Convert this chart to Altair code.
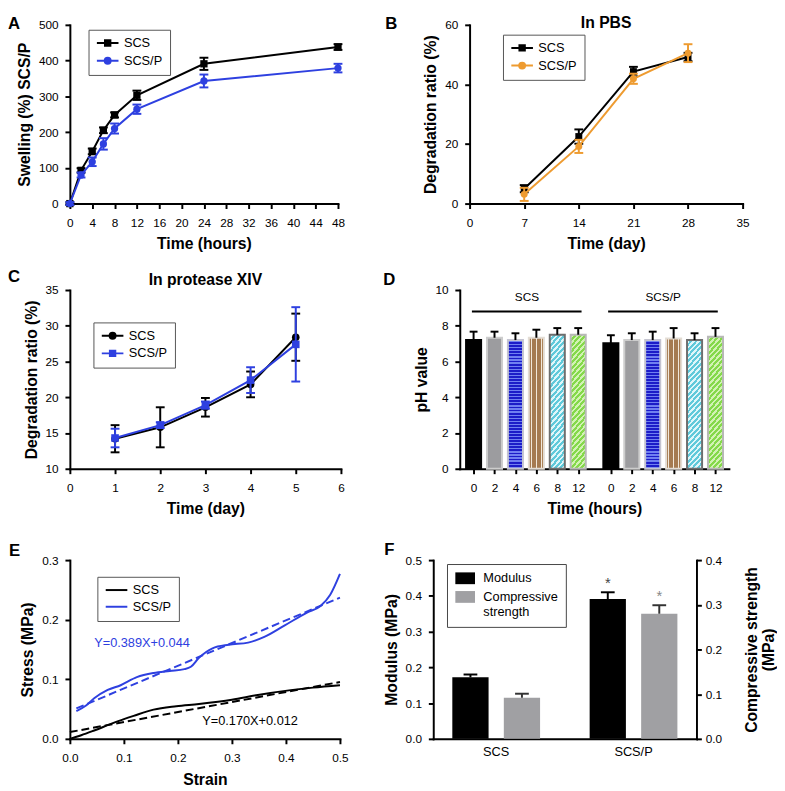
import json
import altair as alt
import pandas as pd

FONT = "Liberation Sans"
BLUE = "#2E40E0"
ORANGE = "#EE9B30"
BLACK = "#000000"

# ---------------- Panel A : swelling ----------------
a_time = [0, 2, 4, 6, 8, 12, 24, 48]
a_scs = [0, 93, 146, 205, 248, 303, 391, 438]
a_scs_err = [4, 6, 8, 8, 7, 13, 17, 8]
a_scsp = [0, 80, 117, 167, 210, 264, 343, 379]
a_scsp_err = [4, 7, 12, 16, 14, 13, 18, 12]
a_xticks = [0, 4, 8, 12, 16, 20, 24, 28, 32, 36, 40, 44, 48]
a_yticks = [0, 100, 200, 300, 400, 500]

# ---------------- Panel B : degradation in PBS ----------------
b_day = [7, 14, 21, 28]
b_scs = [5.0, 22.5, 44.3, 49.2]
b_scs_err = [1.2, 2.4, 1.6, 1.4]
b_scsp = [3.1, 19.2, 41.9, 50.5]
b_scsp_err = [2.2, 2.2, 1.7, 3.0]
b_xticks = [0, 7, 14, 21, 28, 35]
b_yticks = [0, 20, 40, 60]

# ---------------- Panel C : degradation in protease XIV ----------------
c_day = [1, 2, 3, 4, 5]
c_scs = [14.2, 15.8, 18.6, 21.8, 28.4]
c_scs_err = [1.9, 2.8, 1.3, 1.8, 3.3]
c_scsp = [14.3, 16.1, 18.9, 22.4, 27.4]
c_scsp_err = [1.3, 0.4, 0.5, 1.8, 5.2]
c_xticks = [0, 1, 2, 3, 4, 5, 6]
c_yticks = [10, 15, 20, 25, 30, 35]

# ---------------- Panel D : pH ----------------
d_groups = ["SCS", "SCS/P"]
d_hours = ["0", "2", "4", "6", "8", "12"]
d_scs = [7.2, 7.33, 7.2, 7.33, 7.5, 7.5]
d_scs_err = [0.47, 0.34, 0.38, 0.45, 0.37, 0.37]
d_scsp = [7.02, 7.2, 7.2, 7.29, 7.2, 7.38]
d_scsp_err = [0.45, 0.38, 0.47, 0.58, 0.38, 0.49]
d_group_start = [0.0, 6.56]
d_yticks = [0, 2, 4, 6, 8, 10]

# ---------------- Panel E : stress-strain ----------------
e_scs_strain = [0, 0.021, 0.045, 0.076, 0.1, 0.118, 0.155, 0.197, 0.239, 0.3, 0.348, 0.409, 0.45, 0.5]
e_scs_stress = [0, 0.006, 0.014, 0.025, 0.033, 0.0385, 0.049, 0.0547, 0.0585, 0.0656, 0.0737, 0.0818, 0.086, 0.09]
e_scsp_strain = [0.012, 0.03, 0.045, 0.07, 0.094, 0.124, 0.155, 0.185, 0.212, 0.224, 0.239, 0.264,
                 0.294, 0.33, 0.36, 0.397, 0.439, 0.464, 0.482, 0.5]
e_scsp_stress = [0.0466, 0.056, 0.068, 0.082, 0.09, 0.1035, 0.1105, 0.114, 0.117, 0.121, 0.136, 0.152,
                 0.158, 0.1615, 0.171, 0.19, 0.212, 0.223, 0.242, 0.277]
e_fit_scs_x = [0.0, 0.5]
e_fit_scs_y = [0.0114, 0.0954]
e_fit_scsp_x = [0.012, 0.5]
e_fit_scsp_y = [0.051, 0.237]
e_eq_text = ["Y=0.389X+0.044", "Y=0.170X+0.012"]
e_eq_x = [0.045, 0.245]
e_eq_y = [0.160, 0.030]
e_xticks = [0.0, 0.1, 0.2, 0.3, 0.4, 0.5]
e_yticks = [0.0, 0.1, 0.2, 0.3]

# ---------------- Panel F : mechanics ----------------
f_groups = ["SCS", "SCS/P"]
f_measures = ["Modulus", "Compressive strength"]
f_modulus = [0.172, 0.391]
f_modulus_err = [0.008, 0.019]
f_strength = [0.092, 0.280]
f_strength_err = [0.009, 0.019]
f_star = ["", "*"]
f_yticks_left = [0.0, 0.1, 0.2, 0.3, 0.4, 0.5]
f_yticks_right = [0.0, 0.1, 0.2, 0.3, 0.4]

SERIES = ["SCS", "SCS/P"]
CAP = "M-1,0H1"
LETTER_SIZE = 17


def marker_path(kind):
    if kind == "square":
        return "M-2,0H2M-0.5,-0.5H0.5V0.5H-0.5Z"
    return "M-2,0H2M0.55,0A0.55,0.55,0,1,1,-0.55,0A0.55,0.55,0,1,1,0.55,0Z"


def text_layer(txt, x, y, size=LETTER_SIZE, weight="bold", align="left", baseline="top"):
    return alt.Chart(pd.DataFrame({"t": [txt]})).mark_text(
        font=FONT, fontSize=size, fontWeight=weight, align=align, baseline=baseline, color="black"
    ).encode(text="t:N", x=alt.value(x), y=alt.value(y))


def series_panel(xs, means, errs, colors, shapes, xdom, xticks, ydom, yticks, xtitle, ytitle,
                 w, h, leg_xy, letter, let_xy, title=None, msize=60, legfont=13):
    rows = []
    for name, m, e in zip(SERIES, means, errs):
        for xv, mv, ev in zip(xs, m, e):
            rows.append({"series": name, "x": xv, "m": mv, "lo": mv - ev, "hi": mv + ev})
    df = pd.DataFrame(rows)
    xsc = alt.Scale(domain=xdom, nice=False, zero=False)
    ysc = alt.Scale(domain=ydom, nice=False, zero=False)
    xax = alt.Axis(values=xticks, title=xtitle)
    yax = alt.Axis(values=yticks, title=ytitle)
    X = alt.X("x:Q", scale=xsc, axis=xax)

    def Y(f):
        return alt.Y(f"{f}:Q", scale=ysc, axis=yax)

    layers = []
    for name, color, shape in zip(SERIES, colors, shapes):
        base = alt.Chart(df).transform_filter(alt.datum.series == name)
        layers.append(base.mark_line(color=color, strokeWidth=2).encode(x=X, y=Y("m")))
        layers.append(base.mark_rule(color=color, strokeWidth=2).encode(x=X, y=Y("lo"), y2="hi:Q"))
        for f in ("lo", "hi"):
            layers.append(base.mark_point(shape=CAP, size=81, filled=False, stroke=color,
                                          strokeWidth=2, opacity=1).encode(x=X, y=Y(f)))
        layers.append(base.mark_point(shape=shape, size=msize, filled=True, color=color,
                                      opacity=1).encode(x=X, y=Y("m")))
    L = alt.Legend(title=None, orient="none", legendX=leg_xy[0], legendY=leg_xy[1],
                   strokeColor="#555555", fillColor="white", padding=7, symbolSize=121,
                   symbolOffset=6, symbolStrokeWidth=2, labelFont=FONT, labelFontSize=legfont,
                   labelColor="black", rowPadding=3, labelOffset=10, symbolOpacity=1)
    leg = alt.Chart(df).transform_filter("false").mark_point(filled=True, opacity=1, strokeWidth=2).encode(
        fill=alt.Fill("series:N", scale=alt.Scale(domain=SERIES, range=colors), legend=L),
        stroke=alt.Stroke("series:N", scale=alt.Scale(domain=SERIES, range=colors), legend=L),
        shape=alt.Shape("series:N", scale=alt.Scale(domain=SERIES, range=[marker_path(s) for s in shapes]),
                        legend=L),
    )
    layers.append(leg)
    layers.append(text_layer(letter, let_xy[0], let_xy[1]))
    if title:
        layers.append(text_layer(title[0], w / 2, title[1], size=16, align="center", baseline=title[2]))
    return alt.layer(*layers).properties(width=w, height=h)


H = 182

panelA = series_panel(a_time, [a_scs, a_scsp], [a_scs_err, a_scsp_err], [BLACK, BLUE], ["square", "circle"],
                      [0, 48], a_xticks, [0, 500], a_yticks, "Time (hours)", "Swelling (%) SCS/P",
                      273, H, (19, 5), "A", (-63, -9), msize=55)
panelB = series_panel(b_day, [b_scs, b_scsp], [b_scs_err, b_scsp_err], [BLACK, ORANGE], ["square", "circle"],
                      [0, 35], b_xticks, [0, 60], b_yticks, "Time (day)", "Degradation ratio (%)",
                      278, H, (34, 10), "B", (-86, -9), title=("In PBS", -10, "top"), msize=50)
panelC = series_panel(c_day, [c_scs, c_scsp], [c_scs_err, c_scsp_err], [BLACK, BLUE], ["circle", "square"],
                      [0, 6], c_xticks, [10, 35], c_yticks, "Time (day)", "Degradation ratio (%)",
                      276, H, (24, 33), "C", (-63, -21), title=("In protease XIV", -5, "alphabetic"),
                      msize=60, legfont=13)


# ---------------- Panel D ----------------
def stripe_grad(base, line, n, frac, x1, y1, x2, y2):
    stops = []
    for k in range(n):
        a = k / n
        c = (k + 1) / n
        m = (k + 0.5) / n
        lo = m - frac / (2 * n)
        hi = m + frac / (2 * n)
        stops += [alt.GradientStop(offset=a, color=base), alt.GradientStop(offset=lo, color=base),
                  alt.GradientStop(offset=lo, color=line), alt.GradientStop(offset=hi, color=line),
                  alt.GradientStop(offset=hi, color=base), alt.GradientStop(offset=c, color=base)]
    return alt.LinearGradient(gradient="linear", stops=stops, x1=x1, y1=y1, x2=x2, y2=y2)


d_fills = [
    "#000000",
    "#9c9c9f",
    stripe_grad("#1c1cc8", "#7080f0", 42, 0.4, 0, 0, 0, 1),
    stripe_grad("#a57a50", "#f2e8da", 3, 0.25, 0, 0, 1, 0),
    stripe_grad("#5fc9da", "#dff6f9", 26, 0.45, 0, 0, 0.142, 1.11),
    stripe_grad("#84d94a", "#d2f2b4", 26, 0.45, 0, 0, 0.142, 1.11),
]
d_strokes = ["#000000", "#cdcdcd", "#c4c4d0", "#e3ddd5", "#6e6e6e", "#b8b8b8"]

d_rows = []
for gi, (g, vals, errs) in enumerate(zip(d_groups, [d_scs, d_scsp], [d_scs_err, d_scsp_err])):
    for k, (hr, v, e) in enumerate(zip(d_hours, vals, errs)):
        p = d_group_start[gi] + k
        d_rows.append({"group": g, "k": k, "hour": hr, "x": p, "x0": p - 0.36, "x1": p + 0.36,
                       "v": v, "hi": v + e})
ddf = pd.DataFrame(d_rows)
d_pos = list(ddf["x"])
hrs_js = json.dumps(d_hours).replace('"', "'")
d_label_expr = (f"datum.value < 6 ? {hrs_js}[round(datum.value)] : "
                f"{hrs_js}[round(datum.value - {d_group_start[1]})]")
DX_sc = alt.Scale(domain=[-0.66, 12.2], nice=False, zero=False)
DX_ax = alt.Axis(values=d_pos, labelExpr=d_label_expr, title="Time (hours)")
DY_sc = alt.Scale(domain=[0, 10], nice=False)
DY_ax = alt.Axis(values=d_yticks, title="pH value")


def DX(f):
    return alt.X(f"{f}:Q", scale=DX_sc, axis=DX_ax)


def DY(f):
    return alt.Y(f"{f}:Q", scale=DY_sc, axis=DY_ax)


d_layers = []
for k in range(6):
    d_layers.append(alt.Chart(ddf).transform_filter(alt.datum.k == k).mark_bar(
        fill=d_fills[k], stroke=d_strokes[k], strokeWidth=2, opacity=1
    ).encode(x=DX("x0"), x2="x1:Q", y=DY("v"), y2=alt.datum(0)))
d_layers.append(alt.Chart(ddf).mark_rule(color="black", strokeWidth=2).encode(x=DX("x"), y=DY("v"), y2="hi:Q"))
d_layers.append(alt.Chart(ddf).mark_point(shape=CAP, size=64, filled=False, stroke="black", strokeWidth=2,
                                          opacity=1).encode(x=DX("x"), y=DY("hi")))
d_ann = pd.DataFrame({
    "label": d_groups,
    "xs": [d_group_start[0] - 0.08, d_group_start[1] - 0.13],
    "xe": [d_group_start[0] + 5.16, d_group_start[1] + 5.11],
    "xc": [d_group_start[0] + 2.55, d_group_start[1] + 2.5],
    "y": [8.8, 8.8],
    "ty": [9.38, 9.38],
})
d_layers.append(alt.Chart(d_ann).mark_rule(color="black", strokeWidth=2).encode(x=DX("xs"), x2="xe:Q", y=DY("y")))
d_layers.append(alt.Chart(d_ann).mark_text(font=FONT, fontSize=12, color="black", baseline="alphabetic").encode(
    x=DX("xc"), y=DY("ty"), text="label:N"))
d_layers.append(text_layer("D", -78, -18))
panelD = alt.layer(*d_layers).properties(width=274, height=H)

# ---------------- Panel E ----------------
e_rows = ([{"series": "SCS", "strain": a, "stress": b} for a, b in zip(e_scs_strain, e_scs_stress)] +
          [{"series": "SCS/P", "strain": a, "stress": b} for a, b in zip(e_scsp_strain, e_scsp_stress)])
edf = pd.DataFrame(e_rows)
e_fit = pd.DataFrame(
    [{"series": "SCS", "strain": a, "stress": b} for a, b in zip(e_fit_scs_x, e_fit_scs_y)] +
    [{"series": "SCS/P", "strain": a, "stress": b} for a, b in zip(e_fit_scsp_x, e_fit_scsp_y)])
e_ann = pd.DataFrame({"text": e_eq_text, "x": e_eq_x, "y": e_eq_y, "c": [BLUE, BLACK]})
EX = alt.X("strain:Q", scale=alt.Scale(domain=[0, 0.5], nice=False),
           axis=alt.Axis(values=e_xticks, format=".1f", title="Strain"))
EY = alt.Y("stress:Q", scale=alt.Scale(domain=[0, 0.3], nice=False),
           axis=alt.Axis(values=e_yticks, format=".1f", title="Stress (MPa)"))
LE = alt.Legend(title=None, orient="none", legendX=28, legendY=17, strokeColor="#555555", fillColor="white",
                padding=7, symbolType="M-2,0H2", symbolSize=121, symbolOffset=6, symbolStrokeWidth=2,
                labelFont=FONT, labelFontSize=13, labelColor="black", rowPadding=3, labelOffset=10)
e_layers = []
for name, col in zip(SERIES, [BLACK, BLUE]):
    e_layers.append(alt.Chart(e_fit).transform_filter(alt.datum.series == name).mark_line(
        color=col, strokeWidth=2, strokeDash=[8, 4]).encode(x=EX, y=EY))
e_layers.append(alt.Chart(edf).mark_line(strokeWidth=2, interpolate="monotone").encode(
    x=EX, y=EY, color=alt.Color("series:N", scale=alt.Scale(domain=SERIES, range=[BLACK, BLUE]), legend=LE)))
e_layers.append(alt.Chart(e_ann).mark_text(font=FONT, fontSize=13, align="left", baseline="middle").encode(
    x=alt.X("x:Q", scale=alt.Scale(domain=[0, 0.5], nice=False)),
    y=alt.Y("y:Q", scale=alt.Scale(domain=[0, 0.3], nice=False)),
    text="text:N", color=alt.Color("c:N", scale=None)))
e_layers.append(text_layer("E", -62, -17))
panelE = alt.layer(*e_layers).properties(width=275, height=H)

# ---------------- Panel F ----------------
f_rows = []
for i, g in enumerate(f_groups):
    f_rows.append({"group": g, "measure": f_measures[0], "v": f_modulus[i], "hi": f_modulus[i] + f_modulus_err[i],
                   "star": f_star[i]})
    f_rows.append({"group": g, "measure": f_measures[1], "v": f_strength[i],
                   "hi": f_strength[i] + f_strength_err[i], "star": f_star[i]})
fdf = pd.DataFrame(f_rows)
FX = alt.X("group:N", scale=alt.Scale(domain=f_groups, paddingInner=0.1, paddingOuter=0.0083),
           axis=alt.Axis(title=None, ticks=False, labelAngle=0, labelFontSize=13, labelPadding=7))
FXO = alt.XOffset("measure:N", scale=alt.Scale(domain=f_measures, paddingInner=0.296, paddingOuter=0.348))
LF = alt.Legend(title=None, orient="none", legendX=14, legendY=4, strokeColor="#444444", fillColor="white",
                padding=8, symbolType="M-1.67,-1H1.67V1H-1.67Z", symbolSize=144, symbolOffset=4,
                labelFont=FONT, labelFontSize=13, labelColor="black", rowPadding=5, labelOffset=12,
                symbolStrokeWidth=0,
                labelExpr="datum.label == 'Compressive strength' ? ['Compressive', 'strength'] : datum.label")
FC = alt.Color("measure:N", scale=alt.Scale(domain=f_measures, range=["#000000", "#a0a0a3"]), legend=LF)


def f_group_layers(measure, ydom, yticks, ytitle, orient, star_color, extra_axis):
    ax = alt.Axis(values=yticks, format=".1f", title=ytitle, orient=orient, **extra_axis)
    sc = alt.Scale(domain=ydom, nice=False)

    def Y(f):
        return alt.Y(f"{f}:Q", scale=sc, axis=ax)

    ecol = "black" if measure == f_measures[0] else "#333333"
    base = alt.Chart(fdf).transform_filter(alt.datum.measure == measure)
    return alt.layer(
        base.mark_bar(opacity=1).encode(x=FX, xOffset=FXO, y=Y("v"), color=FC),
        base.mark_rule(color=ecol, strokeWidth=2).encode(x=FX, xOffset=FXO, y=Y("v"), y2="hi:Q"),
        base.mark_point(shape=CAP, size=196, filled=False, stroke=ecol, strokeWidth=2, opacity=1).encode(
            x=FX, xOffset=FXO, y=Y("hi")),
        base.mark_text(font=FONT, fontSize=15, color=star_color, baseline="middle", dy=-9).encode(
            x=FX, xOffset=FXO, y=Y("hi"), text="star:N"),
    )


f_left = f_group_layers(f_measures[0], [0, 0.5], f_yticks_left, "Modulus (MPa)", "left", "#444444", {})
f_right = f_group_layers(f_measures[1], [0, 0.4], f_yticks_right, ["Compressive strength", "(MPa)"], "right",
                         "#888888", {"titleAngle": 270, "titleBaseline": "top", "titlePadding": 4,
                                     "labelPadding": 4})
panelF = alt.layer(f_left, f_right, text_layer("F", -50, -18)).resolve_scale(y="independent").properties(
    width=268, height=H)


# ---------------- Composition ----------------
def indep(c):
    return c.resolve_scale(color="independent", fill="independent", stroke="independent",
                           shape="independent").resolve_legend(color="independent", fill="independent",
                                                               stroke="independent", shape="independent")


row1 = indep(alt.hconcat(panelA, panelB, spacing=39))
row2 = indep(alt.hconcat(panelC, panelD, spacing=39))
row3 = indep(alt.hconcat(panelE, panelF, spacing=35))
top = indep(alt.vconcat(row1, row2, spacing=17))
chart = indep(alt.vconcat(top, row3, spacing=25)).properties(padding=0).configure_view(
    stroke=None
).configure_axis(
    domainColor="black", domainWidth=2, domainCap="square", tickColor="black", tickWidth=2, tickSize=5,
    labelFont=FONT, labelFontSize=12, labelColor="black", labelFlush=False, labelOverlap=False,
    titleFont=FONT, titleFontSize=16, titleFontWeight="bold", titleColor="black", grid=False
).configure_axisX(labelPadding=9, titlePadding=8).configure_axisY(labelPadding=7, titlePadding=6)

chart.save("out.html", embed_options={"renderer": "svg", "actions": False})
